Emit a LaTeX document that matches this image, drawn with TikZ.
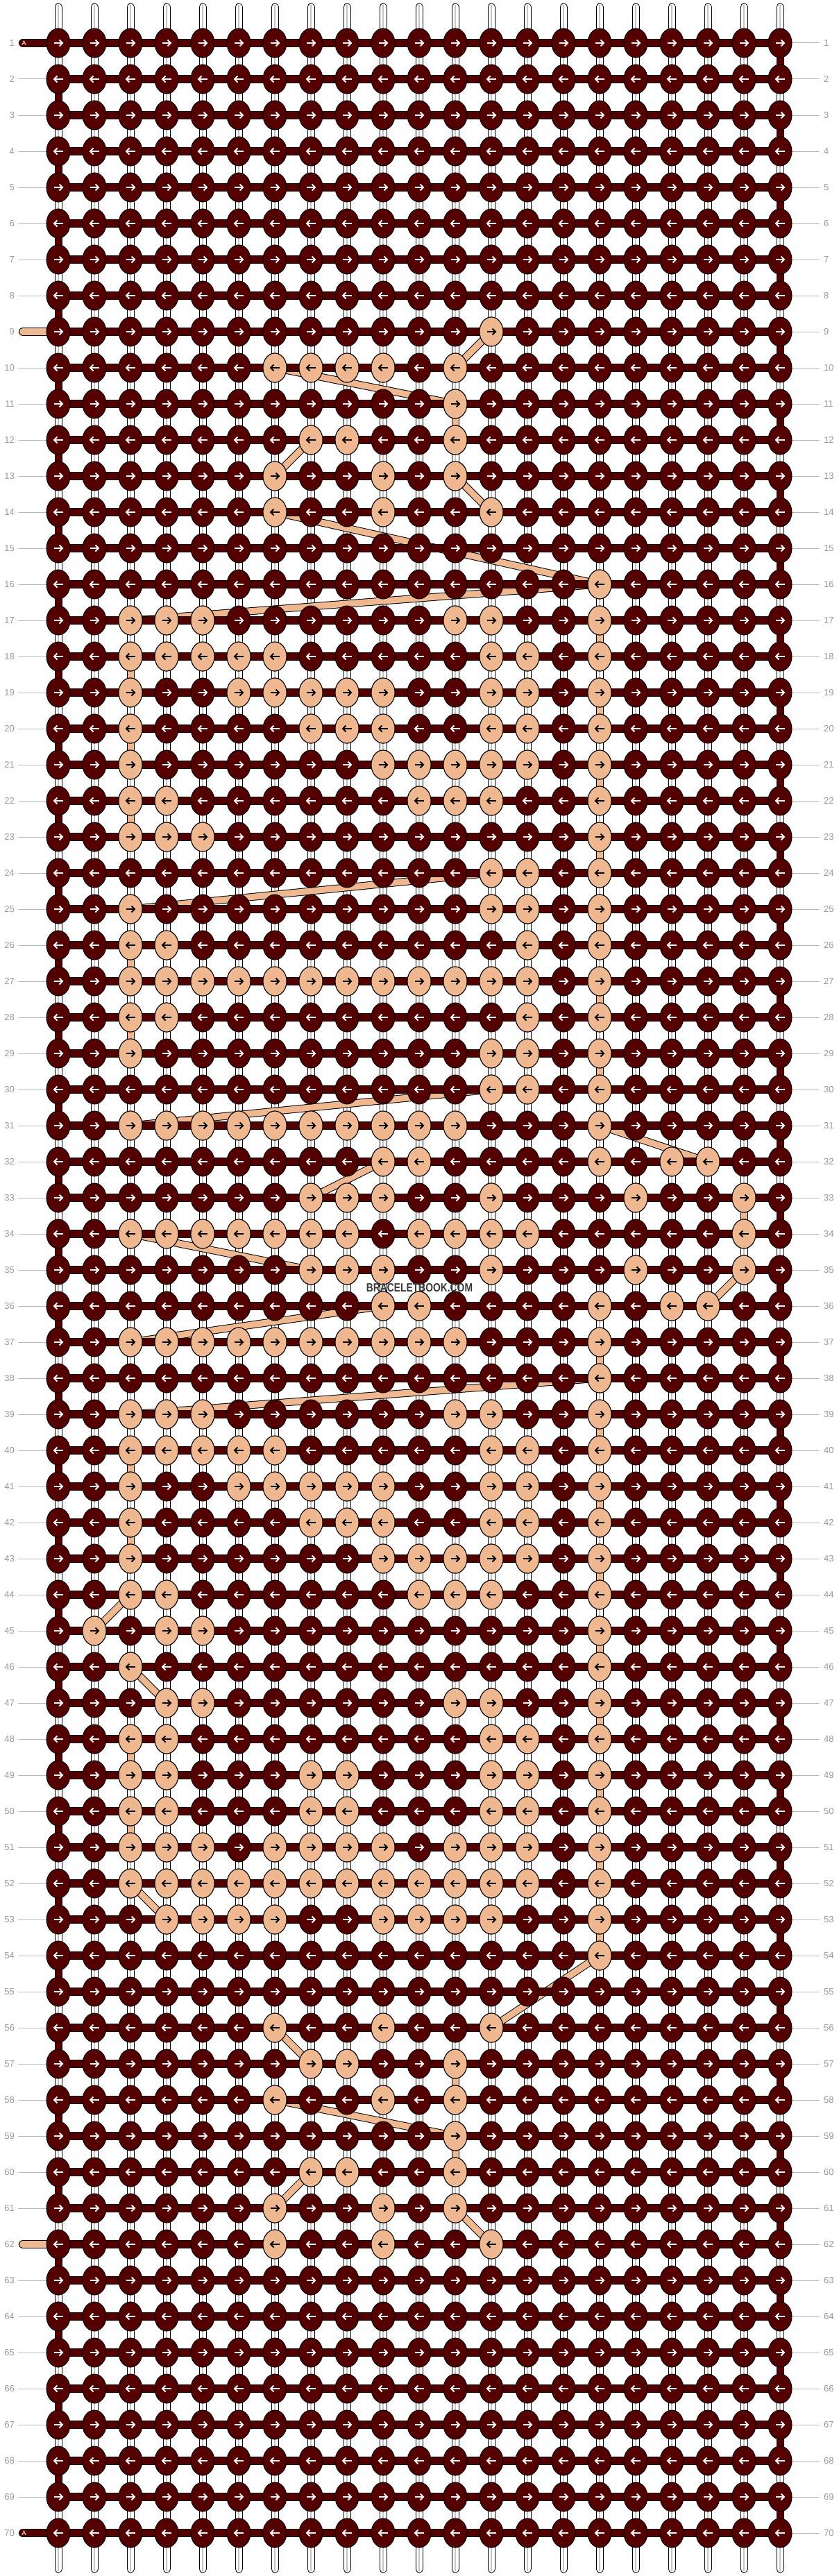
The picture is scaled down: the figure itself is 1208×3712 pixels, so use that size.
\documentclass[tikz,border=0pt]{standalone}
\usepackage{fontspec}
\setmainfont{Liberation Sans}
\usepackage{graphicx}
\definecolor{knotdark}{HTML}{550000}
\definecolor{knotlight}{HTML}{F0B890}
\definecolor{labelgray}{HTML}{999999}
\definecolor{linegray}{HTML}{BBBBBB}
\definecolor{stripgray}{HTML}{C4C4C4}
\definecolor{wmark}{HTML}{3A3A3A}
\newcommand\rarr[3]{%
  \draw[#3, line width=2] (#1-6.5,#2) -- (#1+5,#2);
  \draw[#3, line width=2, line join=miter] (#1+1.5,#2-4.5) -- (#1+6,#2) -- (#1+1.5,#2+4.5);}
\newcommand\larr[3]{%
  \draw[#3, line width=2] (#1+6.5,#2) -- (#1-5,#2);
  \draw[#3, line width=2, line join=miter] (#1-1.5,#2-4.5) -- (#1-6,#2) -- (#1-1.5,#2+4.5);}
\tikzset{
  knotshape/.style={line width=1, draw=black},
  lbl/.style={labelgray, inner sep=0, font=\fontsize{13}{13}\selectfont},
}
\begin{document}
\begin{tikzpicture}[x=1pt,y=-1pt]
\useasboundingbox (0,0) rectangle (1208,3712);
\fill[white] (0,0) rectangle (1208,3712);
% row labels and guide lines
\foreach \r in {1,...,70}{
  \pgfmathsetmacro\yy{62+52*(\r-1)}
  \node[lbl, anchor=east] at (21,\yy) {\r};
  \node[lbl, anchor=west] at (1187,\yy) {\r};
  \draw[linegray, line width=1] (26,\yy) -- (67,\yy);
  \draw[linegray, line width=1] (1141,\yy) -- (1181,\yy);
}
% vertical base strings
\foreach \c in {0,...,20}{
  \pgfmathsetmacro\xx{84+52*\c}
  \draw[line width=11, line cap=round, black] (\xx,10) -- (\xx,3702);
  \draw[line width=9, line cap=round, white] (\xx,10) -- (\xx,3702);
  \draw[line width=1.2, stripgray] (\xx,7) -- (\xx,3705);
}
% thread B connectors
\foreach \ca/\ra/\cb/\rb in {12/9/11/10, 6/10/11/11, 11/11/11/12, 7/12/6/13, 11/13/12/14, 6/14/15/16, 15/16/2/17, 15/17/15/18, 2/18/2/19, 15/19/15/20, 2/20/2/21, 15/21/15/22, 2/22/2/23, 15/23/15/24, 12/24/2/25, 15/25/15/26, 2/26/2/27, 15/27/15/28, 2/28/2/29, 15/29/15/30, 12/30/2/31, 15/31/18/32, 9/32/7/33, 19/33/19/34, 2/34/7/35, 19/35/18/36, 9/36/2/37, 15/37/15/38, 15/38/2/39, 15/39/15/40, 2/40/2/41, 15/41/15/42, 2/42/2/43, 15/43/15/44, 2/44/1/45, 15/45/15/46, 2/46/3/47, 15/47/15/48, 2/48/2/49, 15/49/15/50, 2/50/2/51, 15/51/15/52, 2/52/3/53, 15/53/15/54, 15/54/12/56, 6/56/7/57, 11/57/11/58, 6/58/11/59, 11/59/11/60, 7/60/6/61, 11/61/12/62}{
  \pgfmathsetmacro\xa{84+52*\ca}
  \pgfmathsetmacro\ya{62+52*(\ra-1)}
  \pgfmathsetmacro\xb{84+52*\cb}
  \pgfmathsetmacro\yb{62+52*(\rb-1)}
  \draw[black, line width=11] (\xa,\ya) -- (\xb,\yb);
  \draw[knotlight, line width=9] (\xa,\ya) -- (\xb,\yb);
}
% thread B ends
\foreach \r in {9,62}{
  \pgfmathsetmacro\yy{62+52*(\r-1)}
  \draw[black, line width=12, line cap=round] (33,\yy) -- (84,\yy);
  \draw[knotlight, line width=10, line cap=round] (33,\yy) -- (84,\yy);
}
% thread A turns at the edges
\foreach \r in {1,...,69}{
  \pgfmathsetmacro\ya{62+52*(\r-1)}
  \pgfmathsetmacro\yb{62+52*\r}
  \pgfmathtruncatemacro\odd{mod(\r,2)}
  \ifnum\odd=1 \def\xx{1124}\else\def\xx{84}\fi
  \draw[black, line width=11] (\xx,\ya) -- (\xx,\yb);
  \draw[knotdark, line width=9] (\xx,\ya) -- (\xx,\yb);
}
% thread A horizontal rows
\foreach \r in {1,...,70}{
  \pgfmathsetmacro\yy{62+52*(\r-1)}
  \draw[black, line width=12] (84,\yy) -- (1124,\yy);
  \draw[knotdark, line width=10] (84,\yy) -- (1124,\yy);
}
\foreach \r in {1,70}{
  \pgfmathsetmacro\yy{62+52*(\r-1)}
  \draw[black, line width=12, line cap=round] (33,\yy) -- (84,\yy);
  \draw[knotdark, line width=10, line cap=round] (33,\yy) -- (84,\yy);
  \node[white, inner sep=0, font=\fontsize{9.5}{9.5}\selectfont] at (34.5,\yy) {A};
}
% dark knots
\foreach \r in {1,...,70}{
  \pgfmathsetmacro\yy{62+52*(\r-1)}
  \pgfmathtruncatemacro\odd{mod(\r,2)}
  \foreach \c in {0,...,20}{
    \pgfmathsetmacro\xx{84+52*\c}
    \filldraw[knotshape, fill=knotdark] (\xx,\yy) ellipse [x radius=17, y radius=21];
    \ifnum\odd=1 \rarr{\xx}{\yy}{white}\else\larr{\xx}{\yy}{white}\fi
  }
}
% light knots
\foreach \r/\cols in {9/{12}, 10/{6,7,8,9,11}, 11/{11}, 12/{7,8,11}, 13/{6,9,11}, 14/{6,9,12}, 16/{15}, 17/{2,3,4,11,12,15}, 18/{2,3,4,5,6,12,13,15}, 19/{2,5,6,7,8,9,12,13,15}, 20/{2,7,8,9,12,13,15}, 21/{2,9,10,11,12,13,15}, 22/{2,3,10,11,12,15}, 23/{2,3,4,15}, 24/{12,13,15}, 25/{2,12,13,15}, 26/{2,3,13,15}, 27/{2,3,4,5,6,7,8,9,10,11,12,13,15}, 28/{2,3,13,15}, 29/{2,12,13,15}, 30/{12,13,15}, 31/{2,3,4,5,6,7,8,9,10,11,15}, 32/{9,10,15,17,18}, 33/{7,8,9,12,16,19}, 34/{2,3,4,5,6,7,8,10,11,12,13,19}, 35/{7,8,9,12,16,19}, 36/{9,10,15,17,18}, 37/{2,3,4,5,6,7,8,9,10,11,15}, 38/{15}, 39/{2,3,4,11,12,15}, 40/{2,3,4,5,6,12,13,15}, 41/{2,5,6,7,8,9,12,13,15}, 42/{2,7,8,9,12,13,15}, 43/{2,9,10,11,12,13,15}, 44/{2,3,10,11,12,15}, 45/{1,3,4,15}, 46/{2,15}, 47/{3,4,11,12,15}, 48/{2,3,12,13,15}, 49/{2,3,7,8,12,13,15}, 50/{2,3,7,8,12,13,15}, 51/{2,3,4,6,7,8,9,11,12,13,15}, 52/{2,3,4,5,6,7,8,9,10,11,12,13,15}, 53/{3,4,5,6,9,10,11,12,15}, 54/{15}, 56/{6,9,12}, 57/{7,8,11}, 58/{6,9,11}, 59/{11}, 60/{7,8,11}, 61/{6,9,11}, 62/{6,9,12}}{
  \pgfmathsetmacro\yy{62+52*(\r-1)}
  \pgfmathtruncatemacro\odd{mod(\r,2)}
  \foreach \c in \cols {
    \pgfmathsetmacro\xx{84+52*\c}
    \filldraw[knotshape, fill=knotlight] (\xx,\yy) ellipse [x radius=17, y radius=21];
    \ifnum\odd=1 \rarr{\xx}{\yy}{black}\else\larr{\xx}{\yy}{black}\fi
  }
}
% watermark
\node[wmark, inner sep=0, font=\bfseries\fontsize{17.2}{17.2}\selectfont] (wm) at (604.5,1855.5) {\scalebox{0.805}[1]{BRACELETBOOK.COM}};
\end{tikzpicture}
\end{document}
